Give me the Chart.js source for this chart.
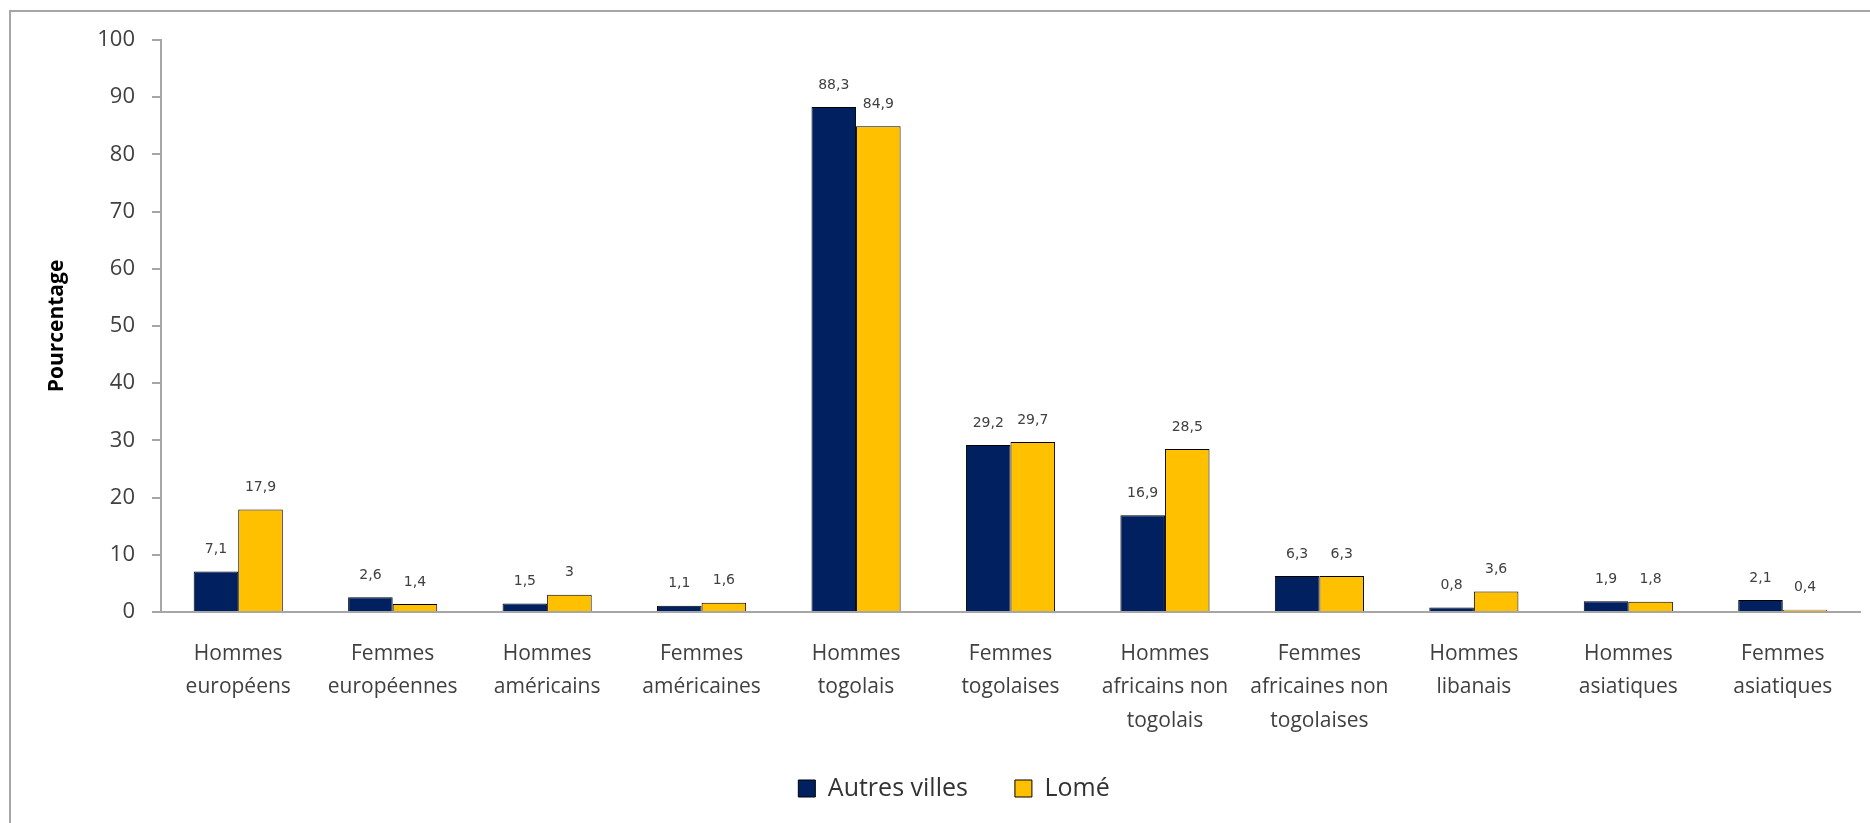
<!DOCTYPE html>
<html>
<head>
<meta charset="utf-8">
<script src="https://cdn.jsdelivr.net/npm/chart.js@4.4.1/dist/chart.umd.min.js"></script>
<style>
  body { margin: 0; background: #fff; overflow: hidden; }
  #wrap { position: relative; width: 1870px; height: 823px; }
  #frame {
    position: absolute; left: 9px; top: 10px; width: 1900px; height: 900px;
    border-left: 2px solid #a6a6a6; border-top: 2px solid #a6a6a6;
  }
  canvas { position: absolute; left: 0; top: 0; }
</style>
</head>
<body>
<div id="wrap">
  <div id="frame"></div>
  <canvas id="chart" width="1870" height="823"></canvas>
</div>
<script>
// Chart data
const categories = [
  ["Hommes", "européens"],
  ["Femmes", "européennes"],
  ["Hommes", "américains"],
  ["Femmes", "américaines"],
  ["Hommes", "togolais"],
  ["Femmes", "togolaises"],
  ["Hommes", "africains non", "togolais"],
  ["Femmes", "africaines non", "togolaises"],
  ["Hommes", "libanais"],
  ["Hommes", "asiatiques"],
  ["Femmes", "asiatiques"]
];
const autresVilles = [7.1, 2.6, 1.5, 1.1, 88.3, 29.2, 16.9, 6.3, 0.8, 1.9, 2.1];
const lome = [17.9, 1.4, 3, 1.6, 84.9, 29.7, 28.5, 6.3, 3.6, 1.8, 0.4];
const yTicks = [0, 10, 20, 30, 40, 50, 60, 70, 80, 90, 100];

// draw the value above each bar, with a comma for decimals
const valueLabels = {
  id: "valueLabels",
  afterDatasetsDraw(chart) {
    const ctx = chart.ctx;
    ctx.save();
    ctx.font = "14px 'DejaVu Sans'";
    ctx.fillStyle = "#404040";
    ctx.textAlign = "center";
    ctx.textBaseline = "middle";
    chart.data.datasets.forEach((ds, i) => {
      const meta = chart.getDatasetMeta(i);
      meta.data.forEach((bar, j) => {
        const txt = String(ds.data[j]).replace(".", ",");
        ctx.fillText(txt, bar.x, bar.y - 22);
      });
    });
    ctx.restore();
  }
};

// legend sits a little right of centre and higher in the original
const legendShift = {
  id: "legendShift",
  afterLayout(chart) {
    chart.legend.left += 24;
    chart.legend.right += 24;
    chart.legend.top -= 12;
    chart.legend.bottom -= 12;
  }
};

const ctx = document.getElementById("chart").getContext("2d");
const chart = new Chart(ctx, {
  type: "bar",
  data: {
    labels: categories,
    datasets: [
      {
        label: "Autres villes",
        data: autresVilles,
        backgroundColor: "#002060",
        borderColor: "#000000",
        borderWidth: 1,
        categoryPercentage: 0.577,
        barPercentage: 1.0
      },
      {
        label: "Lomé",
        data: lome,
        backgroundColor: "#FFC000",
        borderColor: "#000000",
        borderWidth: 1,
        categoryPercentage: 0.577,
        barPercentage: 1.0
      }
    ]
  },
  options: {
    responsive: false,
    animation: false,
    layout: { padding: { left: 0, top: 40, right: 10, bottom: 0 } },
    plugins: {
      tooltip: { enabled: false },
      legend: {
        position: "bottom",
        labels: {
          font: { family: "'Open Sans'", size: 25 },
          color: "#333333",
          boxWidth: 17,
          boxHeight: 17,
          padding: 47
        }
      }
    },
    scales: {
      x: {
        grid: { display: false, drawTicks: false },
        border: { display: true, color: "#a6a6a6", width: 2 },
        ticks: {
          font: { family: "'Open Sans'", size: 21, lineHeight: 1.6 },
          color: "#404040",
          maxRotation: 0,
          autoSkip: false,
          padding: 25
        },
        afterFit(scale) { scale.height = 129; }
      },
      y: {
        min: 0,
        max: 100,
        afterBuildTicks(scale) {
          scale.ticks = yTicks.map(v => ({ value: v }));
        },
        grid: { drawOnChartArea: false, drawTicks: true, tickLength: 9, color: "#a6a6a6", lineWidth: 2 },
        border: { display: true, color: "#a6a6a6", width: 2 },
        ticks: {
          font: { family: "'Open Sans'", size: 22 },
          color: "#404040",
          padding: 17
        },
        title: {
          display: true,
          text: "Pourcentage",
          font: { family: "'Open Sans'", size: 21, weight: "bold" },
          color: "#000000",
          padding: { top: 44, bottom: 0 }
        },
        afterFit(scale) { scale.width = 161; }
      }
    }
  },
  plugins: [valueLabels, legendShift]
});
</script>
</body>
</html>
